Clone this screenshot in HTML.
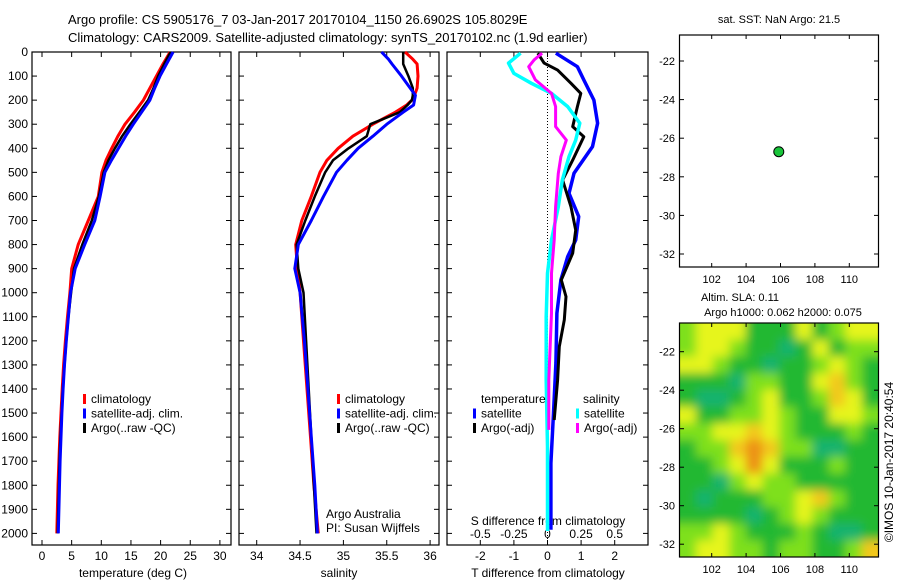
<!DOCTYPE html>
<html><head><meta charset="utf-8"><style>
body{margin:0;background:#fff;}
svg{display:block;font-family:"Liberation Sans",sans-serif;}
text{font-size:12px;fill:#000;}
</style></head><body>
<svg id="fig" width="900" height="580" viewBox="0 0 900 580" xmlns="http://www.w3.org/2000/svg">
<text x="68" y="24" style="font-size:13px">Argo profile: CS 5905176_7 03-Jan-2017 20170104_1150 26.6902S 105.8029E</text>
<text x="68" y="42" style="font-size:13px">Climatology: CARS2009. Satellite-adjusted climatology: synTS_20170102.nc (1.9d earlier)</text>
<text x="779" y="23" text-anchor="middle" style="font-size:11px">sat. SST: NaN Argo: 21.5</text>
<text x="740" y="301" text-anchor="middle" style="font-size:11px">Altim. SLA: 0.11</text>
<text x="783" y="316" text-anchor="middle" style="font-size:11px">Argo h1000: 0.062 h2000: 0.075</text>
<text transform="translate(893,462) rotate(-90)" text-anchor="middle" style="font-size:12px">©IMOS 10-Jan-2017 20:40:54</text>
<g id="g"></g>
</svg>
<script>
const depths=[0,50,100,150,200,250,300,350,400,450,500,600,700,800,900,1000,1100,1200,1300,1400,1500,1600,1700,1800,1900,2000];
const tClim=[21.6,20.4,19.3,18.2,17.1,15.6,14.0,12.8,11.75,10.8,10.1,9.5,7.8,6.1,5.0,4.7,4.3,3.95,3.65,3.4,3.2,3.0,2.85,2.7,2.6,2.5];
const tSat=[22.1,21.0,19.9,19.0,18.2,16.8,15.4,14.1,12.9,11.7,10.6,9.8,8.9,7.2,5.6,4.8,4.45,4.1,3.8,3.55,3.35,3.2,3.05,2.95,2.85,2.75];
const tArgo=[21.7,20.6,19.6,18.8,17.9,16.4,14.9,13.5,12.3,11.2,10.4,9.6,8.4,6.8,5.4,4.9,4.45,4.1,3.8,3.5,3.3,3.1,2.95,2.85,2.75,2.65];
const sDepths=[0,30,50,100,150,180,200,220,250,300,350,400,450,500,600,700,800,900,1000,1200,1400,1600,1800,2000];
const sClim=[35.71,35.80,35.85,35.86,35.85,35.82,35.79,35.73,35.60,35.34,35.11,34.94,34.81,34.73,34.63,34.52,34.45,34.47,34.50,34.54,34.58,34.62,34.66,34.71];
const sSat=[35.44,35.52,35.56,35.67,35.77,35.83,35.82,35.81,35.69,35.50,35.34,35.17,35.04,34.92,34.77,34.63,34.48,34.44,34.50,34.55,34.59,34.63,34.67,34.70];
const sArgo=[35.69,35.69,35.69,35.75,35.80,35.80,35.79,35.74,35.65,35.31,35.27,35.06,34.88,34.79,34.67,34.56,34.46,34.48,34.54,34.57,34.60,34.63,34.66,34.69];
const dDepthsT=[5,61,116,200,296,393,504,587,684,781,850,947,1085,1292,1500,1708,1985];
const dTsat=[0.25,0.89,1.08,1.38,1.49,1.34,0.79,0.64,0.93,0.84,0.60,0.40,0.28,0.25,0.18,0.10,0.10];
const dDepthsA=[5,46,75,130,172,227,310,352,449,532,643,740,836,947,1016,1113,1224,1363,1529];
const dTargo=[-0.29,-0.10,0.30,0.70,0.99,0.89,0.75,1.08,0.75,0.45,0.70,0.84,0.75,0.41,0.55,0.50,0.35,0.30,0.20];
const dDepthsS=[5,46,89,130,172,227,296,366,435,532,643,781,919,1100,1363,1640,1990];
const dSsat=[-0.20,-0.29,-0.25,-0.12,0.03,0.15,0.24,0.21,0.16,0.11,0.08,0.03,0.0,-0.01,-0.01,0.0,0.0];
const dDepthsM=[5,33,61,116,172,227,310,366,435,504,643,781,919,1085,1363,1570];
const dSargo=[-0.04,-0.10,-0.14,-0.09,0.03,0.06,0.06,0.14,0.10,0.08,0.06,0.05,0.03,0.03,0.01,0.01];
const depthTicks=[0,100,200,300,400,500,600,700,800,900,1000,1100,1200,1300,1400,1500,1600,1700,1800,1900,2000];
const tTicks=[0,5,10,15,20,25,30];
const sTicks=[34,34.5,35,35.5,36];
const dtTicks=[-2,-1,0,1,2];
const dsTicks=[-0.5,-0.25,0,0.25,0.5];
const dsTickLabels=["-0.5","-0.25","0","0.25","0.5"];
const lonTicks=[102,104,106,108,110];
const latTicks=[-22,-24,-26,-28,-30,-32];
const argoLon=105.9, argoLat=-26.7;
const slaGrid=[
[2,3,3,3,1,1,1,3,1,2,3,3],
[2,3,3,2,1,1,0,1,3,1,2,2],
[3,3,2,1,1,0,1,1,2,3,2,1],
[1,1,1,0,2,2,1,1,3,4,2,1],
[1,0,0,1,2,3,1,1,2,4,3,1],
[3,1,1,2,2,3,2,1,1,3,3,2],
[2,2,3,3,4,3,2,1,1,1,2,1],
[1,2,2,4,5,4,2,2,0,0,1,1],
[1,1,2,3,5,3,1,1,1,2,1,1],
[1,1,0,2,3,2,2,1,1,1,1,1],
[1,0,1,1,1,2,2,3,4,2,1,1],
[1,1,1,1,0,1,2,3,2,1,1,1],
[2,2,3,2,1,1,1,2,1,0,0,1],
[2,3,3,2,2,1,2,2,1,1,2,4]];
const slaColors=["#19b270","#22b830","#7ee01e","#e6f51c","#f3c81c","#ec8f14"];

const NS="http://www.w3.org/2000/svg";
const G=document.getElementById('g');
function el(tag,attrs,parent){const e=document.createElementNS(NS,tag);for(const k in attrs)e.setAttribute(k,attrs[k]);(parent||G).appendChild(e);return e;}
function txt(x,y,s,anchor,parent,size){const t=el('text',{x:x,y:y,'text-anchor':anchor||'start'},parent);if(size)t.style.fontSize=size+'px';t.textContent=s;return t;}
const Y=d=>52+d*0.2407;
const xT=v=>42+v*5.93;
const xS=v=>256.7+(v-34)*86.7;
const xDT=v=>547.5+v*33.6;
const xDS=v=>547.5+v*134.4;
const P1={x0:32,x1:231},P2={x0:239,x1:439},P3={x0:447,x1:648};
const TOP=52,BOT=545;

function frame(p,name){
  const r=el('rect',{x:p.x0,y:TOP,width:p.x1-p.x0,height:BOT-TOP,fill:'none',stroke:'#000','stroke-width':1.2});
  
  
  depthTicks.forEach(d=>{el('line',{x1:p.x0,x2:p.x0+5,y1:Y(d),y2:Y(d),stroke:'#000'});el('line',{x1:p.x1-5,x2:p.x1,y1:Y(d),y2:Y(d),stroke:'#000'});});
}
frame(P1,'temperature-panel');frame(P2,'salinity-panel');frame(P3,'difference-panel');
const ya=el('g',{});


depthTicks.forEach(d=>txt(28,Y(d)+4,String(d),'end',ya));
function xticks(p,ticks,fx,labels,ly,name){
  const g=el('g',{});
  
  
  ticks.forEach((v,i)=>{const x=fx(v);el('line',{x1:x,x2:x,y1:BOT-5,y2:BOT,stroke:'#000'},g);el('line',{x1:x,x2:x,y1:TOP,y2:TOP+5,stroke:'#000'},g);txt(x,ly,labels?labels[i]:String(v),'middle',g);});
}
xticks(P1,tTicks,xT,null,560,'temperature-axis');
xticks(P2,sTicks,xS,null,560,'salinity-axis');
xticks(P3,dtTicks,xDT,null,560,'t-difference-axis');
const dsg=el('g',{});


dsTicks.forEach((v,i)=>txt(xDS(v),538,dsTickLabels[i],'middle',dsg));
txt(548,525,'S difference from climatology','middle');
txt(133,577,'temperature (deg C)','middle');
txt(339,577,'salinity','middle');
txt(548,577,'T difference from climatology','middle');
txt(326,518,'Argo Australia','start');
txt(326,532,'PI: Susan Wijffels','start');
el('line',{x1:547.5,x2:547.5,y1:TOP,y2:BOT,stroke:'#000','stroke-dasharray':'1,2'});

function series(ds,vs,fx,color,w,name){
  const pts=ds.map((d,i)=>fx(vs[i]).toFixed(1)+','+Y(d).toFixed(1)).join(' ');
  const l=el('polyline',{points:pts,fill:'none',stroke:color,'stroke-width':w,'stroke-linejoin':'round'});
  
  
}
series(depths,tClim,xT,'#f00',3,'temperature-climatology-line');
series(depths,tArgo,xT,'#000',2.5,'temperature-argo-line');
series(depths,tSat,xT,'#00f',3,'temperature-satellite-line');
series(sDepths,sClim,xS,'#f00',3,'salinity-climatology-line');
series(sDepths,sArgo,xS,'#000',2.5,'salinity-argo-line');
series(sDepths,sSat,xS,'#00f',3,'salinity-satellite-line');
series(dDepthsT,dTsat,xDT,'#00f',3.5,'t-diff-satellite-line');
series(dDepthsA,dTargo,xDT,'#000',3,'t-diff-argo-line');
series(dDepthsS,dSsat,xDS,'#0ff',3.5,'s-diff-satellite-line');
series(dDepthsM,dSargo,xDS,'#f0f',3,'s-diff-argo-line');

function legendRow(x,y,color,label,name){
  const g=el('g',{});
  
  
  el('rect',{x:x,y:y-5,width:3,height:10,fill:color},g);
  txt(x+8,y+4,label,'start',g);
}
legendRow(83,399,'#f00','climatology','legend-climatology');
legendRow(83,413.5,'#00f','satellite-adj. clim.','legend-satellite-adj');
legendRow(83,428,'#000','Argo(..raw -QC)','legend-argo');
legendRow(337,399,'#f00','climatology','legend2-climatology');
legendRow(337,413.5,'#00f','satellite-adj. clim.','legend2-satellite-adj');
legendRow(337,428,'#000','Argo(..raw -QC)','legend2-argo');
txt(481,403,'temperature','start');
txt(583,403,'salinity','start');
legendRow(473,413.5,'#00f','satellite','legend-t-satellite');
legendRow(473,428,'#000','Argo(-adj)','legend-t-argo');
legendRow(576,413.5,'#0ff','satellite','legend-s-satellite');
legendRow(576,428,'#f0f','Argo(-adj)','legend-s-argo');

// maps
const lonX=v=>711.7+(v-102)*17.2;
const MX=679.5,MW=199,M2T=323,M2B=557;
function mapAxes(top,bot,latY,name){
  const r=el('rect',{x:MX,y:top,width:MW,height:bot-top,fill:'none',stroke:'#000','stroke-width':1.2});
  
  
  lonTicks.forEach(v=>{const x=lonX(v);el('line',{x1:x,x2:x,y1:bot-4,y2:bot,stroke:'#000'});el('line',{x1:x,x2:x,y1:top,y2:top+4,stroke:'#000'});txt(x,bot+16,String(v),'middle',null,11);});
  latTicks.forEach(v=>{const y=latY(v);el('line',{x1:MX,x2:MX+4.5,y1:y,y2:y,stroke:'#000'});el('line',{x1:MX+MW-4.5,x2:MX+MW,y1:y,y2:y,stroke:'#000'});txt(675,y+4,String(v),'end',null,11);});
}
const lat1=v=>61+(-22-v)*19.3;
const lat2=v=>351.7+(-22-v)*19.25;
// heatmap
const clip=el('clipPath',{id:'mc'});el('rect',{x:MX,y:M2T,width:MW,height:M2B-M2T},clip);
const flt=el('filter',{id:'bl',x:'-10%',y:'-10%',width:'120%',height:'120%'});el('feGaussianBlur',{stdDeviation:5},flt);
const hg=el('g',{'clip-path':'url(#mc)'});


const inner=el('g',{filter:'url(#bl)'},hg);
const nr=slaGrid.length,nc=slaGrid[0].length,cw=MW/nc,ch=(M2B-M2T)/nr;
slaGrid.forEach((row,r)=>row.forEach((v,c)=>{
  const cell=el('rect',{x:MX+c*cw-(c==0?12:0),y:M2T+r*ch-(r==0?12:0),width:cw+1+(c==0||c==nc-1?12:0),height:ch+1+(r==0||r==nr-1?12:0),fill:slaColors[v]},inner);
  
  
}));
mapAxes(35,267,lat1,'sst-map');
mapAxes(M2T,M2B,lat2,'sla-map');
const dot=el('circle',{cx:lonX(argoLon),cy:lat1(argoLat),r:5,fill:'#19c43a',stroke:'#000','stroke-width':1});


</script>
</body></html>
